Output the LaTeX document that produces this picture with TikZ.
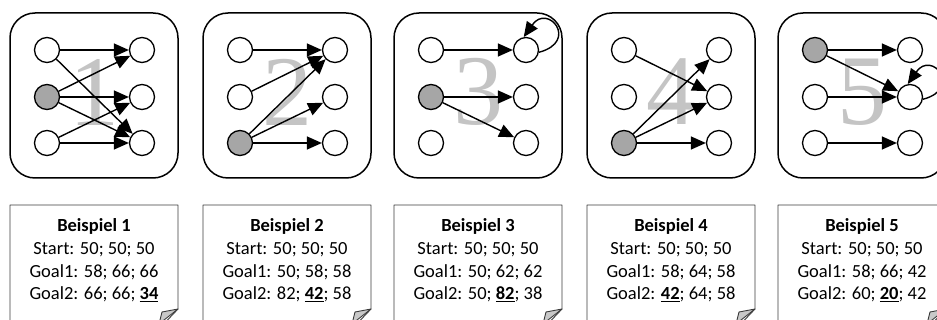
\documentclass[tikz,border=0pt]{standalone}
\usepackage{fontspec}
\setmainfont{Carlito}
\newfontfamily\digitfont{Liberation Serif}
\usetikzlibrary{arrows.meta}
\definecolor{selgray}{RGB}{166,166,166}
\definecolor{digitgray}{RGB}{196,196,196}
\definecolor{foldgray}{RGB}{200,200,200}
\definecolor{noteline}{RGB}{60,60,60}
\newcommand{\hit}[1]{\underline{\textbf{#1}}}

\begin{document}
\begin{tikzpicture}[x=1pt,y=1pt,
  state/.style={circle,draw,line width=1.3pt,minimum size=25pt,inner sep=0pt},
  panel/.style={draw,line width=1.5pt,rounded corners=25pt},
  move/.style={line width=1.4pt,-{Triangle[length=15pt,width=13pt]}},
  bignum/.style={font=\digitfont\fontsize{100}{100}\selectfont,text=digitgray,inner sep=0pt},
  notebox/.style={draw=noteline,line width=0.9pt,line join=round},
  notefold/.style={draw=noteline,fill=foldgray,line width=0.9pt,line join=round},
  notetext/.style={align=center,inner sep=0pt,font=\fontsize{18.5}{22.7}\selectfont}
]
\useasboundingbox (0,0) rectangle (937,-320);

% five panels: frame, big number and the 3x2 grid of states
\foreach \i/\x/\s in {1/10/2,2/203/3,3/394/2,4/587/3,5/778/1}{
  \draw[panel] (\x,-13) rectangle (\x+168,-178);
  \node[bignum] (num\i) at (\x+84,-92) {\i};
  \foreach \r/\y in {1/50,2/97,3/143}{
    \ifnum\r=\s \def\fillc{selgray}\else\def\fillc{white}\fi
    \node[state,fill=\fillc] (p\i-L\r) at (\x+37,-\y) {};
    \node[state,fill=white] (p\i-R\r) at (\x+132,-\y) {};
  }
  % note below the panel with folded corner
  \draw[notebox] (\x,-330) -- (\x,-205) -- (\x+168,-205) -- (\x+168,-309) -- (\x+148,-330);
  \draw[notefold] (\x+168,-309) -- (\x+152,-312) -- (\x+149,-324) -- cycle;
}

% moves of example 1
\draw[move] (p1-L1) -- (p1-R1);
\draw[move] (p1-L1) -- (p1-R3);
\draw[move] (p1-L2) -- (p1-R1);
\draw[move] (p1-L2) -- (p1-R2);
\draw[move] (p1-L2) -- (p1-R3);
\draw[move] (p1-L3) -- (p1-R2);
\draw[move] (p1-L3) -- (p1-R3);

% moves of example 2
\draw[move] (p2-L1) -- (p2-R1);
\draw[move] (p2-L2) -- (p2-R1);
\draw[move] (p2-L3) -- (p2-R1);
\draw[move] (p2-L3) -- (p2-R2);
\draw[move] (p2-L3) -- (p2-R3);

% moves of example 3
\draw[move] (p3-L1) -- (p3-R1);
\draw[move] (p3-R1.-10) .. controls +(15:42) and +(55:42) .. (p3-R1.100);
\draw[move] (p3-L2) -- (p3-R2);
\draw[move] (p3-L2) -- (p3-R3);

% moves of example 4
\draw[move] (p4-L1) -- (p4-R2);
\draw[move] (p4-L3) -- (p4-R1);
\draw[move] (p4-L3) -- (p4-R2);
\draw[move] (p4-L3) -- (p4-R3);

% moves of example 5
\draw[move] (p5-L1) -- (p5-R1);
\draw[move] (p5-L1) -- (p5-R2);
\draw[move] (p5-L2) -- (p5-R2);
\draw[move] (p5-R2.-10) .. controls +(15:42) and +(55:42) .. (p5-R2.100);
\draw[move] (p5-L3) -- (p5-R3);

% texts of the notes (anchored at the baseline of the last line)
\node[notetext,anchor=base] (t1) at (94,-300)
  {\textbf{Beispiel 1}\\Start: 50; 50; 50\\Goal1: 58; 66; 66\\Goal2: 66; 66; \hit{34}};
\node[notetext,anchor=base] (t2) at (287,-300)
  {\textbf{Beispiel 2}\\Start: 50; 50; 50\\Goal1: 50; 58; 58\\Goal2: 82; \hit{42}; 58};
\node[notetext,anchor=base] (t3) at (478,-300)
  {\textbf{Beispiel 3}\\Start: 50; 50; 50\\Goal1: 50; 62; 62\\Goal2: 50; \hit{82}; 38};
\node[notetext,anchor=base] (t4) at (671,-300)
  {\textbf{Beispiel 4}\\Start: 50; 50; 50\\Goal1: 58; 64; 58\\Goal2: \hit{42}; 64; 58};
\node[notetext,anchor=base] (t5) at (862,-300)
  {\textbf{Beispiel 5}\\Start: 50; 50; 50\\Goal1: 58; 66; 42\\Goal2: 60; \hit{20}; 42};
\end{tikzpicture}
\end{document}
